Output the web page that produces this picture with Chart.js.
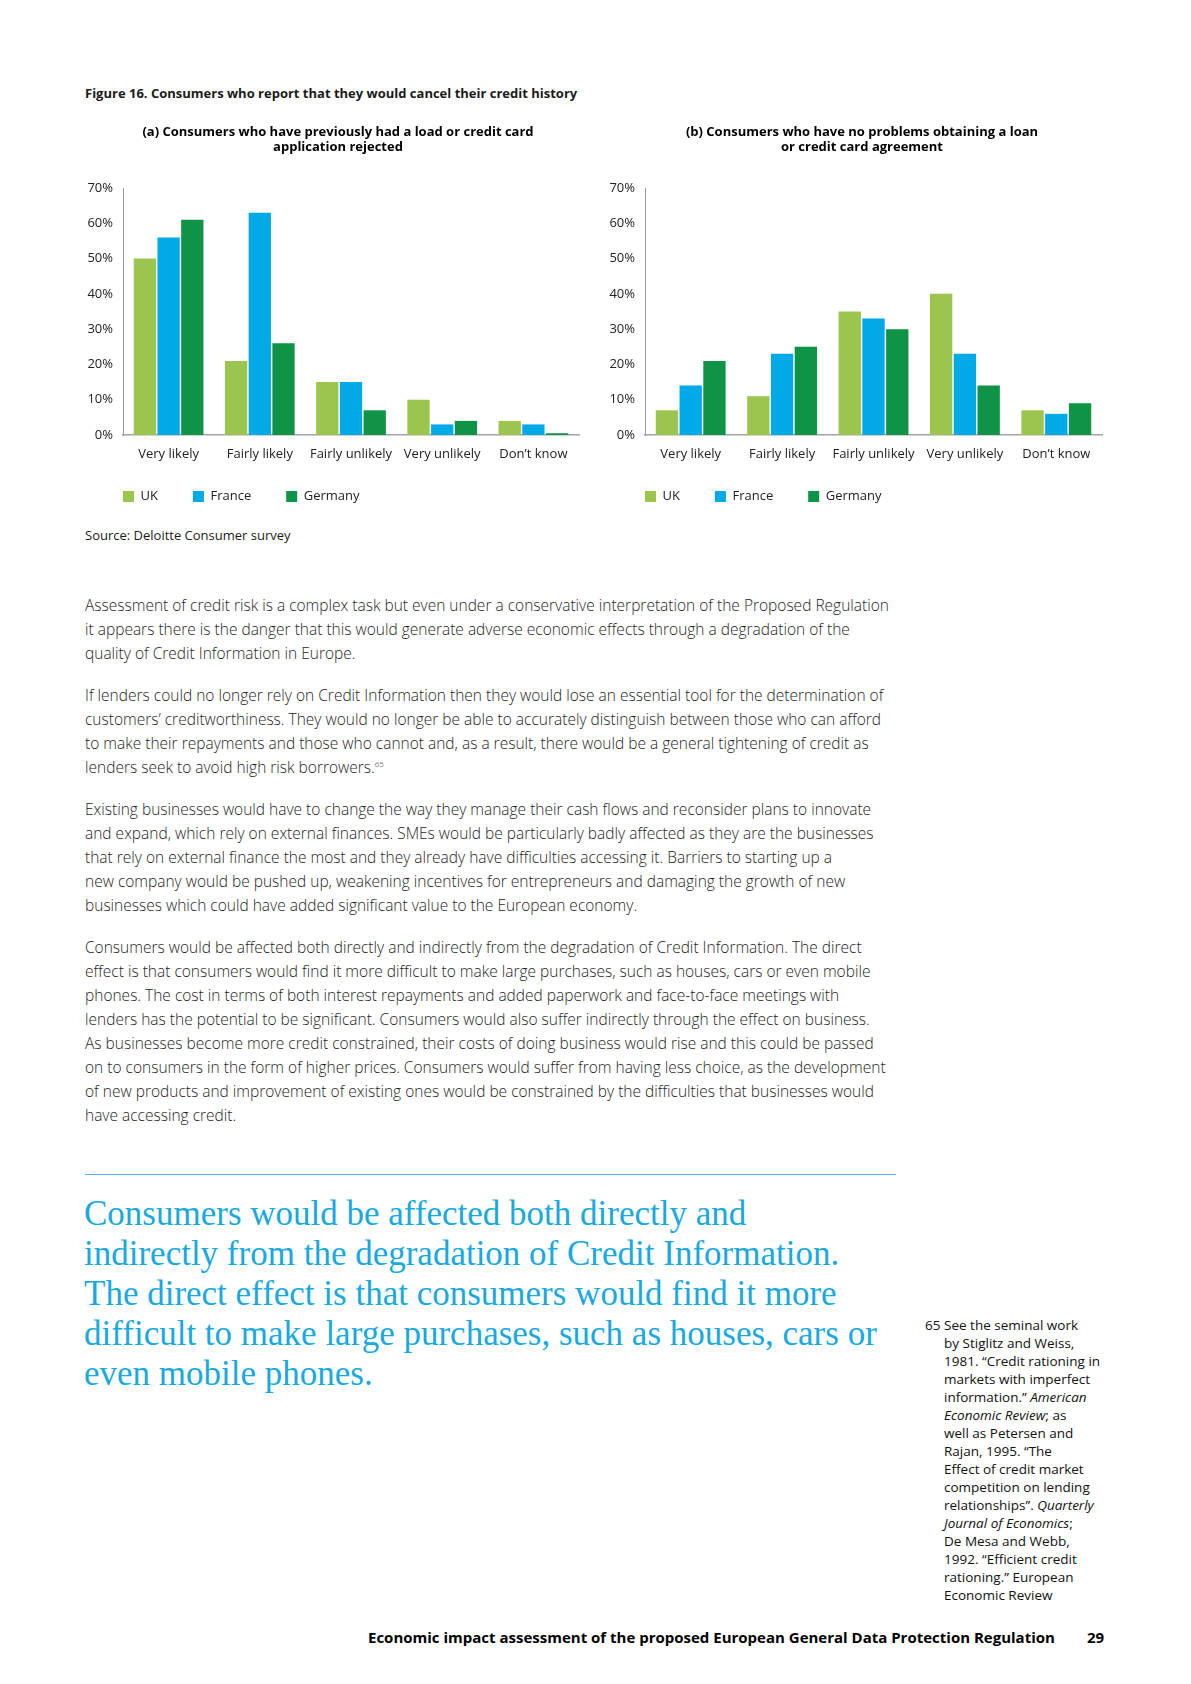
<!DOCTYPE html>
<html>
<head>
<meta charset="utf-8">
<script src="https://cdn.jsdelivr.net/npm/chart.js@4.4.1/dist/chart.umd.min.js"></script>
<style>
  html, body { margin: 0; padding: 0; background: #fff; }
  #page { position: relative; width: 1191px; height: 1684px; overflow: hidden; font-family: "Open Sans", sans-serif; color: #1a1a1a; }
  .abs { position: absolute; white-space: nowrap; }
  .fig-title { left: 85px; top: 84px; font-size: 13px; font-weight: 700; line-height: 18px; }
  .chart-box { position: absolute; top: 110px; width: 520px; height: 413px; }
  .source { left: 85px; top: 526px; font-size: 13px; line-height: 18px; }
  .body { position: absolute; left: 85px; top: 593px; width: 840px; font-size: 15.5px; font-weight: 300; line-height: 24px; color: #1e1e1e; }
  .body p { margin: 0 0 18px 0; white-space: nowrap; }
  .body sup { font-size: 8px; vertical-align: 6px; line-height: 0; }
  .rule { position: absolute; left: 85px; top: 1174px; width: 811px; height: 0; border-top: 1.5px solid #4dbbeb; }
  .quote { position: absolute; left: 84px; top: 1194px; font-family: "Liberation Serif", serif; font-size: 35px; line-height: 40px; color: #18a9e1; white-space: nowrap; }
  .note { position: absolute; left: 925px; top: 1316px; font-size: 13.5px; line-height: 18px; color: #111; padding-left: 19px; text-indent: -19px; white-space: nowrap; }
  .note .num { display: inline-block; width: 19px; text-indent: 0; }
  .footer { top: 1627px; font-size: 15px; font-weight: 700; line-height: 20px; color: #000; }
</style>
</head>
<body>
<div id="page">
  <div class="abs fig-title">Figure 16. Consumers who report that they would cancel their credit history</div>

  <div class="chart-box" style="left:70px"><canvas id="chartRejected"></canvas></div>
  <div class="chart-box" style="left:592px"><canvas id="chartNoProblem"></canvas></div>

  <div class="abs source">Source: Deloitte Consumer survey</div>

  <div class="body">
    <p>Assessment of credit risk is a complex task but even under a conservative interpretation of the Proposed Regulation<br>
    it appears there is the danger that this would generate adverse economic effects through a degradation of the<br>
    quality of Credit Information in Europe.</p>
    <p>If lenders could no longer rely on Credit Information then they would lose an essential tool for the determination of<br>
    customers’ creditworthiness. They would no longer be able to accurately distinguish between those who can afford<br>
    to make their repayments and those who cannot and, as a result, there would be a general tightening of credit as<br>
    lenders seek to avoid high risk borrowers.<sup>65</sup></p>
    <p>Existing businesses would have to change the way they manage their cash flows and reconsider plans to innovate<br>
    and expand, which rely on external finances. SMEs would be particularly badly affected as they are the businesses<br>
    that rely on external finance the most and they already have difficulties accessing it. Barriers to starting up a<br>
    new company would be pushed up, weakening incentives for entrepreneurs and damaging the growth of new<br>
    businesses which could have added significant value to the European economy.</p>
    <p>Consumers would be affected both directly and indirectly from the degradation of Credit Information. The direct<br>
    effect is that consumers would find it more difficult to make large purchases, such as houses, cars or even mobile<br>
    phones. The cost in terms of both interest repayments and added paperwork and face-to-face meetings with<br>
    lenders has the potential to be significant. Consumers would also suffer indirectly through the effect on business.<br>
    As businesses become more credit constrained, their costs of doing business would rise and this could be passed<br>
    on to consumers in the form of higher prices. Consumers would suffer from having less choice, as the development<br>
    of new products and improvement of existing ones would be constrained by the difficulties that businesses would<br>
    have accessing credit.</p>
  </div>

  <div class="rule"></div>

  <div class="quote">Consumers would be affected both directly and<br>
indirectly from the degradation of Credit Information.<br>
The direct effect is that consumers would find it more<br>
difficult to make large purchases, such as houses, cars or<br>
even mobile phones.</div>

  <div class="note"><span class="num">65</span>See the seminal work<br>
by Stiglitz and Weiss,<br>
1981. “Credit rationing in<br>
markets with imperfect<br>
information.” <i>American</i><br>
<i>Economic Review</i>; as<br>
well as Petersen and<br>
Rajan, 1995. “The<br>
Effect of credit market<br>
competition on lending<br>
relationships”. <i>Quarterly</i><br>
<i>Journal of Economics</i>;<br>
De Mesa and Webb,<br>
1992. “Efficient credit<br>
rationing.” European<br>
Economic Review</div>

  <div class="abs footer" style="left:368px">Economic impact assessment of the proposed European General Data Protection Regulation</div>
  <div class="abs footer" style="left:1087px">29</div>
</div>

<script>
// answers per country, in %
const categories = ['Very likely', 'Fairly likely', 'Fairly unlikely', 'Very unlikely', 'Don’t know'];
const countries = ['UK', 'France', 'Germany'];
const countryColors = ['#9bc54f', '#00aae6', '#0f9347'];

// (a) had a loan or credit card application rejected
const rejectedUK = [50, 21, 15, 10, 4];
const rejectedFrance = [56, 63, 15, 3, 3];
const rejectedGermany = [61, 26, 7, 4, 0.5];

// (b) no problems obtaining a loan or credit card
const noProblemUK = [7, 11, 35, 40, 7];
const noProblemFrance = [14, 23, 33, 23, 6];
const noProblemGermany = [21, 25, 30, 14, 9];

const yMax = 70;
const yStep = 10;

const tickFont = { family: 'Open Sans', size: 13 };

// moves the legend row and the title after layout, so they can sit
// where the print version has them without squeezing the plot area
const boxPlacement = {
  id: 'boxPlacement',
  afterLayout(chart, args, opts) {
    const lg = chart.legend;
    if (lg && opts.legendX !== undefined) {
      const pad = lg.options.labels.padding;
      const dx = opts.legendX - (lg.left + pad);
      const dy = opts.legendY - (lg.top + pad);
      lg.left += dx; lg.right += dx;
      lg.top += dy; lg.bottom += dy;
    }
    const tt = chart.titleBlock;
    if (tt && opts.titleShift) {
      tt.left += opts.titleShift;
      tt.right += opts.titleShift;
    }
  }
};

function makeChart(id, title, values, rightPad, titleShift) {
  const ctx = document.getElementById(id).getContext('2d');
  return new Chart(ctx, {
    type: 'bar',
    data: {
      labels: categories,
      datasets: values.map((v, i) => ({
        label: countries[i],
        data: v,
        backgroundColor: countryColors[i],
        borderWidth: 0,
        categoryPercentage: 0.78,
        barPercentage: 0.94
      }))
    },
    plugins: [boxPlacement],
    options: {
      responsive: true,
      maintainAspectRatio: false,
      animation: false,
      layout: { padding: { top: 8, left: 8, right: rightPad, bottom: 0 } },
      plugins: {
        boxPlacement: { legendX: 53, legendY: 380, titleShift: titleShift },
        title: {
          display: true,
          text: title,
          color: '#000',
          font: { family: 'Open Sans', size: 13, weight: 'bold', lineHeight: '15px' },
          padding: { top: 6.5, bottom: 33.5 }
        },
        legend: {
          position: 'bottom',
          align: 'start',
          labels: {
            boxWidth: 11,
            boxHeight: 11,
            padding: 35,
            color: '#222',
            font: tickFont
          }
        },
        tooltip: { enabled: false }
      },
      scales: {
        x: {
          grid: { display: false, drawTicks: false },
          border: { display: true, color: '#a3a3a3', width: 1.5 },
          ticks: { color: '#222', font: tickFont, padding: 11, maxRotation: 0 },
          afterFit: (scale) => { scale.height = 30; }
        },
        y: {
          min: 0,
          max: yMax,
          grid: { display: false, drawTicks: false },
          border: { display: true, color: '#9a9a9a', width: 1 },
          ticks: {
            stepSize: yStep,
            color: '#222',
            font: tickFont,
            padding: 10,
            callback: (v) => v + '%'
          },
          afterFit: (scale) => { scale.width = 45; }
        }
      }
    }
  });
}

makeChart('chartRejected',
  ['(a) Consumers who have previously had a load or credit card', 'application rejected'],
  [rejectedUK, rejectedFrance, rejectedGermany], 11, 9.5);

makeChart('chartNoProblem',
  ['(b) Consumers who have no problems obtaining a loan', 'or credit card agreement'],
  [noProblemUK, noProblemFrance, noProblemGermany], 10, 11);
</script>
</body>
</html>
